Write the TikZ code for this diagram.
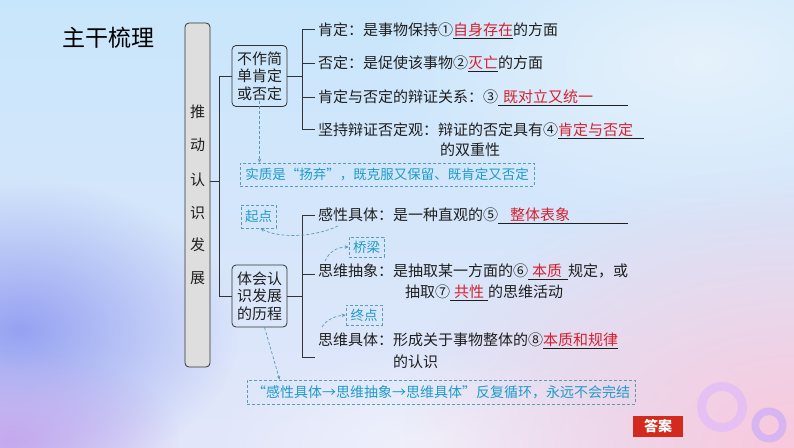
\documentclass[tikz,border=0pt]{standalone}
\usepackage{fontspec}
\setmainfont{Noto Sans CJK SC}
\usetikzlibrary{fadings,arrows.meta,calc}
\definecolor{ansred}{HTML}{D8202E}
\definecolor{notecol}{HTML}{1E9BC8}
\definecolor{dashcol}{HTML}{5A9CB4}
\definecolor{linecol}{HTML}{333333}
\definecolor{btnred}{HTML}{D42A1E}
\tikzfading[name=softglow, inner color=transparent!0, outer color=transparent!100]
\newcommand{\ans}[1]{\underline{\textcolor{ansred}{#1}}}
\newcommand{\answ}[2]{\underline{\makebox[#1][l]{\textcolor{ansred}{#2}}}}
\begin{document}
\begin{tikzpicture}[x=1pt,y=-1pt,
  txt/.style={anchor=base west, inner sep=0pt, font=\fontsize{15}{18}\selectfont, text=black!88},
  conn/.style={draw=linecol, line width=0.8pt},
  topicbox/.style={draw=linecol, line width=0.8pt, rounded corners=4pt, minimum width=55pt, inner sep=0pt, align=center, font=\fontsize{15}{17.5}\selectfont, text=black!88},
  notebox/.style={draw=dashcol, dashed, dash pattern=on 3pt off 2pt, line width=0.7pt, inner sep=0pt, text=notecol, font=\fontsize{13.5}{16}\selectfont},
  notearrow/.style={draw=dashcol, dashed, dash pattern=on 3pt off 2pt, line width=0.7pt, -{Stealth[length=4pt,width=3.5pt]}},
  vchar/.style={inner sep=0pt, font=\fontsize{15}{18}\selectfont, text=black!88}]
% background
\useasboundingbox (0,0) rectangle (794,447);
\shade[top color={rgb,255:red,200;green,230;blue,251}, bottom color={rgb,255:red,226;green,230;blue,250}] (0,0) rectangle (794,447);
\fill[color={rgb,255:red,230;green,242;blue,252}, path fading=softglow] (700,60) ellipse [x radius=320pt, y radius=170pt];
\fill[color={rgb,255:red,150;green,162;blue,242}, path fading=softglow] (20,330) ellipse [x radius=220pt, y radius=150pt];
\fill[color={rgb,255:red,196;green,168;blue,238}, path fading=softglow] (10,440) ellipse [x radius=170pt, y radius=90pt];
\fill[color={rgb,255:red,240;green,242;blue,252}, path fading=softglow] (430,447) ellipse [x radius=220pt, y radius=100pt];
\fill[color={rgb,255:red,249;green,200;blue,220}, path fading=softglow] (794,447) ellipse [x radius=400pt, y radius=280pt];
% rings
\fill[color={rgb,255:red,228;green,190;blue,245}, opacity=0.85, even odd rule] (722,407) circle[radius=25pt] (722,407) circle[radius=16pt];
\fill[color={rgb,255:red,210;green,178;blue,245}, opacity=0.85, even odd rule] (769,425) circle[radius=17.5pt] (769,425) circle[radius=10pt];
% title
\node[inner sep=0pt, font=\fontsize{23}{26}\selectfont, text=black] (title) at (108,38) {主干梳理};
% vertical box
\node[draw=linecol, line width=0.8pt, rounded corners=4pt, fill={rgb,255:red,222;green,222;blue,222}, minimum width=25pt, minimum height=344pt, inner sep=0pt] (vbox) at (197.5,195) {};
\node[vchar] (v1) at (197.5,112) {推};
\node[vchar] (v2) at (197.5,145) {动};
\node[vchar] (v3) at (197.5,180) {认};
\node[vchar] (v4) at (197.5,213) {识};
\node[vchar] (v5) at (197.5,245) {发};
\node[vchar] (v6) at (197.5,278) {展};
% topic boxes
\node[topicbox, minimum height=61pt] (box1) at (259.5,76) {不作简\\单肯定\\或否定};
\node[topicbox, minimum height=62pt] (box2) at (259.5,296) {体会认\\识发展\\的历程};
\coordinate (j0) at (220,181);
\draw[conn] (vbox.east |- j0) -- (j0);
\draw[conn] (box1.west) -- ++(-12,0) |- (box2.west);
% group 1 texts
\node[txt] (t1) at (318,35.5) {肯定：是事物保持①\ans{自身存在}的方面};
\node[txt] (t2) at (318,68.5) {否定：是促使该事物②\ans{灭亡}的方面};
\node[txt] (t3) at (318,102.5) {肯定与否定的辩证关系：③\answ{130pt}{\hspace{5pt}既对立又统一}};
\node[txt] (t4) at (318,135.5) {坚持辩证否定观：辩证的否定具有④\answ{86pt}{肯定与否定}};
\node[txt] (t4b) at (440,155.5) {的双重性};
\coordinate (g1a) at (302,29);
\coordinate (g1b) at (302,129);
\draw[conn] (box1.east) -- (box1.east -| g1a);
\draw[conn] ([xshift=-3pt]t1.west |- g1a) -- (g1a) -- (g1b) -- ([xshift=-3pt]t4.west |- g1b);
\draw[conn] (g1a |- 0,63) -- ([xshift=-3pt]t2.west |- 0,63);
\draw[conn] (g1a |- 0,97) -- ([xshift=-3pt]t3.west |- 0,97);
% group 2 texts
\node[txt] (t5) at (318,220.5) {感性具体：是一种直观的⑤\answ{130pt}{\hspace{12pt}整体表象}};
\node[txt] (t6) at (318,276.5) {思维抽象：是抽取某一方面的⑥\answ{40pt}{\hspace{4pt}本质}规定，或};
\node[txt] (t6b) at (405,297.5) {抽取⑦\answ{38pt}{\hspace{4pt}共性}的思维活动};
\node[txt] (t7) at (318,345.5) {思维具体：形成关于事物整体的⑧\ans{本质和规律}};
\node[txt] (t7b) at (393,367.5) {的认识};
\coordinate (g2a) at (302,215);
\coordinate (g2b) at (302,357);
\draw[conn] (box2.east) -- (box2.east -| g2a);
\draw[conn] ([xshift=-3pt]t5.west |- g2a) -- (g2a) -- (g2b) -- ([xshift=-3pt]t7.west |- g2b);
\draw[conn] (g2a |- 0,274) -- ([xshift=-3pt]t6.west |- 0,274);
% notes
\node[notebox, minimum width=294pt, minimum height=23pt] (note1) at (387,174.5) {实质是“扬弃”，既克服又保留、既肯定又否定};
\node[notebox, minimum width=35pt, minimum height=23pt] (qd) at (258.5,216.5) {起点};
\node[notebox, minimum width=35pt, minimum height=20pt] (ql) at (366.5,247) {桥梁};
\node[notebox, minimum width=36pt, minimum height=20pt] (zd) at (364,315) {终点};
\node[notebox, minimum width=388pt, minimum height=24pt, font=\fontsize{14}{16}\selectfont] (note2) at (441,392) {“感性具体→思维抽象→思维具体”反复循环，永远不会完结};
% note arrows
\draw[notearrow] ([yshift=6pt]box1.south) -- (box1.south |- note1.north);
\coordinate (c1) at (338,226);
\draw[notearrow] (c1) .. controls (312,238) and (278,238) .. ([xshift=2pt]qd.south);
\coordinate (c2) at (325,261);
\draw[notearrow] (c2) .. controls (329,252) and (337,247) .. (ql.west);
\coordinate (c3) at (322,327);
\draw[notearrow] (c3) .. controls (326,320) and (335,316) .. (zd.west);
\draw[notearrow] ([xshift=5pt]box2.south) -- ($(note2.north west)+(33,0)$);
% answer button
\node[fill=btnred, minimum width=50pt, minimum height=21pt, inner sep=0pt, text=white, font=\fontsize{14}{16}\selectfont\bfseries] (btn) at (658,426.5) {答案};
\end{tikzpicture}
\end{document}
